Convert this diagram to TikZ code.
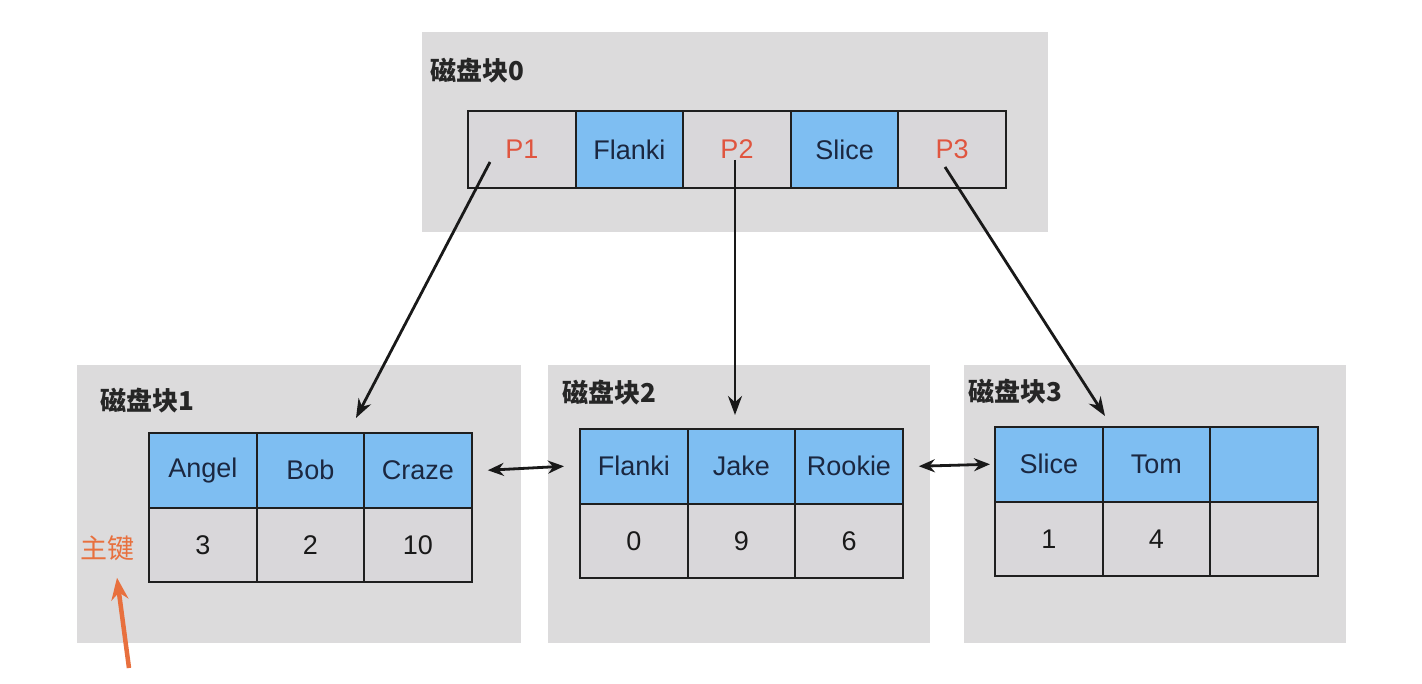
\documentclass[tikz,border=0pt]{standalone}
\usepackage{fontspec}
\setmainfont{Liberation Sans}
\newfontfamily\cjk{Noto Sans CJK SC}
\usetikzlibrary{arrows.meta,calc}
\definecolor{blockbg}{HTML}{DCDBDC}
\definecolor{cellbg}{HTML}{D9D7DA}
\definecolor{keyblue}{HTML}{7EBEF2}
\definecolor{navy}{HTML}{1B2740}
\definecolor{pred}{HTML}{E0553F}
\definecolor{korange}{HTML}{E8703E}
\begin{document}
\begin{tikzpicture}[x=1pt,y=-1pt,
  block/.style={fill=blockbg, draw=none, anchor=north west, inner sep=0},
  cellbase/.style={draw=black!88, line width=2pt, anchor=north west, inner sep=0, font=\fontsize{27}{32}\selectfont},
  pcell/.style={cellbase, fill=cellbg, minimum width=107.6pt, minimum height=77pt, text=pred},
  kcell/.style={cellbase, fill=keyblue, minimum width=107.6pt, minimum height=77pt, text=navy},
  hcell/.style={cellbase, fill=keyblue, minimum width=107.6pt, minimum height=74.5pt, text=navy},
  vcell/.style={cellbase, fill=cellbg, minimum width=107.6pt, minimum height=74.5pt, text=black!90},
  title/.style={anchor=west, inner sep=0, font=\cjk\bfseries\fontsize{26}{30}\selectfont, text=black!85},
  link/.style={line width=2.8pt, black!90, -{Stealth[length=19pt,width=14pt]}},
  dlink/.style={line width=2.8pt, black!90, {Stealth[length=16pt,width=13pt]}-{Stealth[length=16pt,width=13pt]}}
]
\useasboundingbox[fill=white] (0,0) rectangle (1422,684);

% disk blocks
\node[block, minimum width=626pt, minimum height=200pt] (blk0) at (422,32) {};
\node[block, minimum width=444pt, minimum height=278pt] (blk1) at (77,365) {};
\node[block, minimum width=382pt, minimum height=278pt] (blk2) at (548,365) {};
\node[block, minimum width=382pt, minimum height=278pt] (blk3) at (964,365) {};

\node[title] (t0) at (430,71) {磁盘块0};
\node[title] (t1) at (100,401) {磁盘块1};
\node[title] (t2) at (562,393) {磁盘块2};
\node[title] (t3) at (968,392) {磁盘块3};

% block 0 row
\node[pcell] (p1) at (467,110) {P1};
\node[kcell] (k1) at (574.6,110) {Flanki};
\node[pcell] (p2) at (682.2,110) {P2};
\node[kcell] (k2) at (789.8,110) {Slice};
\node[pcell] (p3) at (897.4,110) {P3};

% block 1
\node[hcell] (a1) at (148,432) {Angel};
\node[hcell] (a2) at (255.6,432) {Bob};
\node[hcell] (a3) at (363.2,432) {Craze};
\node[vcell] (av1) at (148,506.5) {3};
\node[vcell] (av2) at (255.6,506.5) {2};
\node[vcell] (av3) at (363.2,506.5) {10};

% block 2
\node[hcell] (b1) at (579,428) {Flanki};
\node[hcell] (b2) at (686.6,428) {Jake};
\node[hcell] (b3) at (794.2,428) {Rookie};
\node[vcell] (bv1) at (579,502.5) {0};
\node[vcell] (bv2) at (686.6,502.5) {9};
\node[vcell] (bv3) at (794.2,502.5) {6};

% block 3
\node[hcell] (c1) at (994,426) {Slice};
\node[hcell] (c2) at (1101.6,426) {Tom};
\node[hcell] (c3) at (1209.2,426) {};
\node[vcell] (cv1) at (994,500.5) {1};
\node[vcell] (cv2) at (1101.6,500.5) {4};
\node[vcell] (cv3) at (1209.2,500.5) {};

% primary key label
\node[anchor=center, inner sep=0, font=\cjk\fontsize{27}{32}\selectfont, text=korange] (pk) at (107,548) {主键};

% pointer arrows
\coordinate (s1) at (490,162);
\coordinate (e1) at (356,418);
\coordinate (s2) at (735,160);
\coordinate (e2) at (735,415);
\coordinate (s3) at (945,167);
\coordinate (e3) at (1105,416);
\draw[link] (s1) -- (e1);
\draw[link] (s2) -- (e2);
\draw[link] (s3) -- (e3);

% sibling links
\draw[dlink] ($(a3.east)+(15,0)$) -- ($(b1.west)+(-15,0)$);
\draw[dlink] ($(b3.east)+(15,0)$) -- ($(c1.west)+(-4,0)$);

% orange arrow to primary key
\coordinate (ko) at (129,668);
\draw[line width=4.5pt, korange, -{Stealth[length=22pt,width=17pt]}] (ko) -- ($(pk.south)+(10,17)$);
\end{tikzpicture}
\end{document}
